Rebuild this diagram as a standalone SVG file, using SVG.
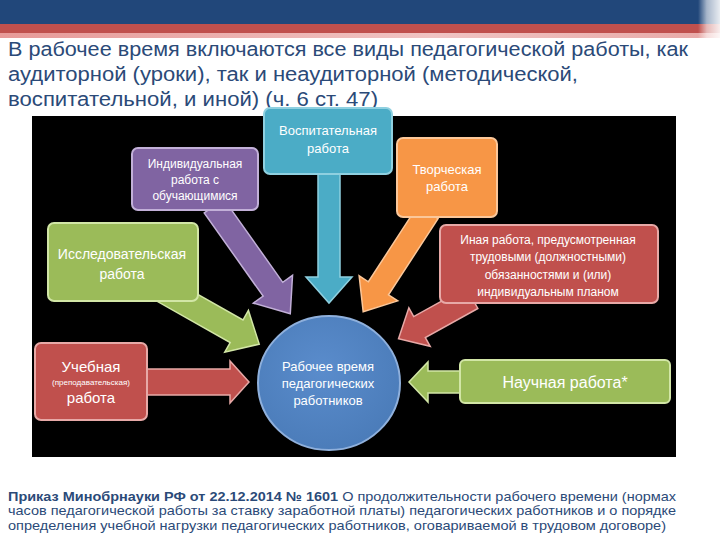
<svg xmlns="http://www.w3.org/2000/svg" width="720" height="540" viewBox="0 0 720 540">
<defs>
<linearGradient id="pink" x1="0" y1="0" x2="1" y2="0"><stop offset="0" stop-color="#e79a98"/><stop offset="0.6" stop-color="#f0c4c3"/><stop offset="1" stop-color="#e8a9a7"/></linearGradient>
<linearGradient id="edge" x1="0" y1="0" x2="1" y2="0"><stop offset="0" stop-color="#ffffff" stop-opacity="0"/><stop offset="0.4" stop-color="#ffffff" stop-opacity="0.6"/><stop offset="1" stop-color="#ffffff" stop-opacity="0.9"/></linearGradient>
<radialGradient id="ball" cx="0.45" cy="0.4" r="0.65"><stop offset="0" stop-color="#5a8ccc"/><stop offset="1" stop-color="#4a7bb8"/></radialGradient>
</defs>
<style>
.t{font-family:"Liberation Sans",Arial,sans-serif;fill:#2b4a78}
.w{font-family:"Liberation Sans",Arial,sans-serif;fill:#ffffff;text-anchor:middle}
.s12{font-size:12px}
.s13{font-size:13px}
.s14{font-size:14px}
.s15{font-size:15px}
.s16{font-size:16px}
.s8{font-size:8px}
.box{stroke-width:2}
.arr{stroke-width:1.5}
</style>
<rect width="720" height="540" fill="#ffffff"/>
<rect x="0" y="0" width="720" height="24" fill="#21477a"/>
<rect x="0" y="24" width="720" height="9" fill="#c0504d"/>
<rect x="0" y="33" width="720" height="5" fill="url(#pink)"/>
<rect x="698" y="0" width="22" height="46" fill="url(#edge)"/>
<g id="title" class="t" style="font-size:20px">
<text x="8" y="56" textLength="680" lengthAdjust="spacingAndGlyphs">В рабочее время включаются все виды педагогической работы, как</text>
<text x="8" y="81" textLength="570" lengthAdjust="spacingAndGlyphs">аудиторной (уроки), так и неаудиторной (методической,</text>
<text x="8" y="106" textLength="370" lengthAdjust="spacingAndGlyphs">воспитательной, и иной) (ч. 6 ст. 47)</text>
</g>
<rect x="32" y="116" width="644" height="341" fill="#000000"/>
<g id="connectors">
<path class="arr" fill="#4bacc6" stroke="#8fd0e0" d="M318,172 L340,172 L340,277 L352,277 L329,303 L306,277 L318,277Z"/>
<path class="arr" fill="#8064a2" stroke="#c2b0d8" transform="translate(214,206) rotate(54.7)" d="M0,-12 L102,-12 L102,-24 L132,0 L102,24 L102,12 L0,12Z"/>
<path class="arr" fill="#9bbb59" stroke="#d2e6a6" transform="translate(160,288) rotate(29.5)" d="M0,-13 L88,-13 L88,-24 L114,0 L88,24 L88,13 L0,13Z"/>
<path class="arr" fill="#f79646" stroke="#fbc79a" transform="translate(428,212) rotate(123)" d="M0,-12 L91,-12 L91,-23 L119,0 L91,23 L91,12 L0,12Z"/>
<path class="arr" fill="#c0504d" stroke="#e7a9a7" transform="translate(472,298) rotate(151)" d="M0,-12 L60,-12 L60,-22 L84,0 L60,22 L60,12 L0,12Z"/>
<path class="arr" fill="#c0504d" stroke="#e7a9a7" d="M147,369 L230,369 L230,361 L249,382 L230,403 L230,395 L147,395Z"/>
<path class="arr" fill="#9bbb59" stroke="#d2e6a6" d="M462,371 L428,371 L428,362 L409,382 L428,402 L428,393 L462,393Z"/>
</g>
<g id="n-vospit">
<rect class="box" x="264" y="108" width="128" height="66" rx="6" fill="#4bacc6" stroke="#8fd0e0"/>
<text class="w s13" x="328" y="135">Воспитательная</text>
<text class="w s13" x="328" y="153">работа</text>
</g>
<g id="n-individ">
<rect class="box" x="132" y="148" width="126" height="62" rx="6" fill="#8064a2" stroke="#c2b0d8"/>
<text class="w s12" x="195" y="168">Индивидуальная</text>
<text class="w s12" x="195" y="184">работа с</text>
<text class="w s12" x="195" y="200">обучающимися</text>
</g>
<g id="n-tvorch">
<rect class="box" x="397" y="138" width="100" height="79" rx="6" fill="#f79646" stroke="#fbc79a"/>
<text class="w s13" x="447" y="174">Творческая</text>
<text class="w s13" x="447" y="191">работа</text>
</g>
<g id="n-issled">
<rect class="box" x="48" y="223" width="150" height="78" rx="6" fill="#9bbb59" stroke="#d2e6a6"/>
<text class="w s14" x="122" y="259">Исследовательская</text>
<text class="w s14" x="122" y="279">работа</text>
</g>
<g id="n-inaya">
<rect class="box" x="440" y="225" width="218" height="78" rx="6" fill="#c0504d" stroke="#e7a9a7"/>
<text class="w s12" x="548" y="244">Иная работа, предусмотренная</text>
<text class="w s12" x="548" y="261">трудовыми (должностными)</text>
<text class="w s12" x="548" y="279">обязанностями и (или)</text>
<text class="w s12" x="548" y="296">индивидуальным планом</text>
</g>
<g id="n-uchebn">
<rect class="box" x="35" y="343" width="112" height="77" rx="6" fill="#c0504d" stroke="#e7a9a7"/>
<text class="w s15" x="91" y="372">Учебная</text>
<text class="w s8" x="91" y="385">(преподавательская)</text>
<text class="w s15" x="91" y="403">работа</text>
</g>
<g id="n-nauch">
<rect class="box" x="460" y="360" width="210" height="43" rx="5" fill="#9bbb59" stroke="#d2e6a6"/>
<text class="w s16" x="565" y="388">Научная работа*</text>
</g>
<g id="n-center">
<ellipse cx="329" cy="383" rx="71" ry="67" fill="url(#ball)" stroke="#8fb0dc" stroke-width="2"/>
<text class="w s13" x="328" y="371">Рабочее время</text>
<text class="w s13" x="328" y="388">педагогических</text>
<text class="w s13" x="328" y="405">работников</text>
</g>
<g id="footer" class="t" style="font-size:13.5px">
<text x="8" y="501" textLength="668" lengthAdjust="spacingAndGlyphs"><tspan font-weight="bold">Приказ Минобрнауки РФ от 22.12.2014 № 1601</tspan> О продолжительности рабочего времени (нормах</text>
<text x="8" y="515" textLength="668" lengthAdjust="spacingAndGlyphs">часов педагогической работы за ставку заработной платы) педагогических работников и о порядке</text>
<text x="8" y="530" textLength="658" lengthAdjust="spacingAndGlyphs">определения учебной нагрузки педагогических работников, оговариваемой в трудовом договоре)</text>
</g>
</svg>
